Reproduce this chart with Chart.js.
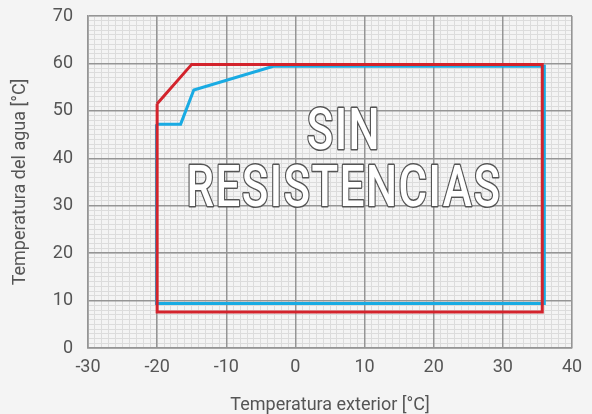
<!DOCTYPE html>
<html>
<head>
<meta charset="utf-8">
<script src="https://cdn.jsdelivr.net/npm/chart.js@4/dist/chart.umd.min.js"></script>
<style>
  html, body { margin: 0; padding: 0; background: #f4f4f4; }
  #wrap { width: 592px; height: 414px; }
</style>
</head>
<body>
<div id="wrap"><canvas id="chart" width="592" height="414"></canvas></div>
<script>
// outer temperature limits (x) and water temperature (y)
const xRange = [-30, 40];
const yRange = [0, 70];

// red envelope
const redX = [-20, -15, 35.7, 35.7, -20, -20];
const redY = [51.5, 59.8, 59.8, 7.6, 7.6, 51.5];

// blue envelope
const blueX = [-20.1, -16.6, -14.7, -3.2, 36.0, 36.0, -20.1, -20.1];
const blueY = [47.2, 47.2, 54.4, 59.4, 59.4, 9.4, 9.4, 47.2];

const stampLines = ['SIN', 'RESISTENCIAS'];
const xTitle = 'Temperatura exterior [°C]';
const yTitle = 'Temperatura del agua [°C]';

const FONT = "'Roboto', sans-serif";
const TXT = '#555555';

function pts(xs, ys) { return xs.map((x, i) => ({ x: x, y: ys[i] })); }

const stampPlugin = {
  id: 'stamp',
  afterDatasetsDraw(chart) {
    const ctx = chart.ctx;
    const xs = chart.scales.x, ys = chart.scales.y;
    const cx = xs.getPixelForValue(6.9);
    const rows = [46.8, 34.7];
    ctx.save();
    ctx.font = '500 58px ' + FONT;
    ctx.letterSpacing = '2px';
    ctx.textAlign = 'center';
    ctx.textBaseline = 'middle';
    ctx.lineJoin = 'round';
    // squeeze to a condensed look, long line ~313px wide
    const k = 315 / ctx.measureText(stampLines[1]).width;
    stampLines.forEach((t, i) => {
      const cy = ys.getPixelForValue(rows[i]) + 8;
      ctx.save();
      ctx.translate(cx + k, cy);
      ctx.scale(k, 1);
      ctx.strokeStyle = '#555';
      ctx.lineWidth = 3;
      ctx.strokeText(t, 0, 0);
      ctx.fillStyle = '#ffffff';
      ctx.fillText(t, 0, 0);
      ctx.restore();
    });
    ctx.restore();
  }
};

// 1-degree minor grid, drawn beneath the 10-degree major grid
function minorScale(pos, range) {
  return {
    type: 'linear', position: pos,
    min: range[0], max: range[1],
    afterFit: s => {
      if (pos === 'bottom') s.height = 0; else s.width = 0;
      s.paddingTop = s.paddingBottom = s.paddingLeft = s.paddingRight = 0;
    },
    ticks: { display: false, stepSize: 1, autoSkip: false },
    grid: { color: '#dcdcdc', lineWidth: 1, drawTicks: false, z: -2 },
    border: { display: false }
  };
}

function noPad(s) { s.paddingTop = s.paddingBottom = s.paddingLeft = s.paddingRight = 0; }

new Chart(document.getElementById('chart'), {
  type: 'line',
  data: {
    datasets: [
      {
        label: 'rojo',
        data: pts(redX, redY),
        borderColor: '#d3232c',
        borderWidth: 3,
        pointRadius: 0,
        tension: 0,
        fill: false,
        borderJoinStyle: 'miter'
      },
      {
        label: 'azul',
        data: pts(blueX, blueY),
        borderColor: '#19abe3',
        borderWidth: 3,
        pointRadius: 0,
        tension: 0,
        fill: false,
        borderJoinStyle: 'miter'
      }
    ]
  },
  options: {
    responsive: false,
    animation: false,
    layout: { padding: { left: 0, top: 16, right: 20, bottom: 0 } },
    plugins: { legend: { display: false }, tooltip: { enabled: false } },
    scales: {
      xm: minorScale('bottom', xRange),
      ym: minorScale('left', yRange),
      x: {
        type: 'linear',
        min: xRange[0], max: xRange[1],
        afterFit: s => { s.height = 66; noPad(s); },
        ticks: {
          stepSize: 10, maxRotation: 0, padding: 9,
          color: TXT, font: { family: FONT, size: 18 }
        },
        grid: { color: '#959595', lineWidth: 1.5, drawTicks: false, z: -1 },
        border: { color: '#959595', width: 1.5 },
        title: {
          display: true, text: xTitle, color: TXT,
          font: { family: FONT, size: 18, lineHeight: 1 }, padding: 0
        }
      },
      y: {
        type: 'linear',
        min: yRange[0], max: yRange[1],
        afterFit: s => { s.width = 88; noPad(s); },
        ticks: {
          stepSize: 10, padding: 15,
          color: TXT, font: { family: FONT, size: 18 }
        },
        grid: { color: '#959595', lineWidth: 1.5, drawTicks: false, z: -1 },
        border: { color: '#959595', width: 1.5 },
        title: {
          display: true, text: yTitle, color: TXT,
          font: { family: FONT, size: 18, lineHeight: 1 }, padding: { top: 11, bottom: 0 }
        }
      }
    }
  },
  plugins: [stampPlugin]
});
</script>
</body>
</html>
